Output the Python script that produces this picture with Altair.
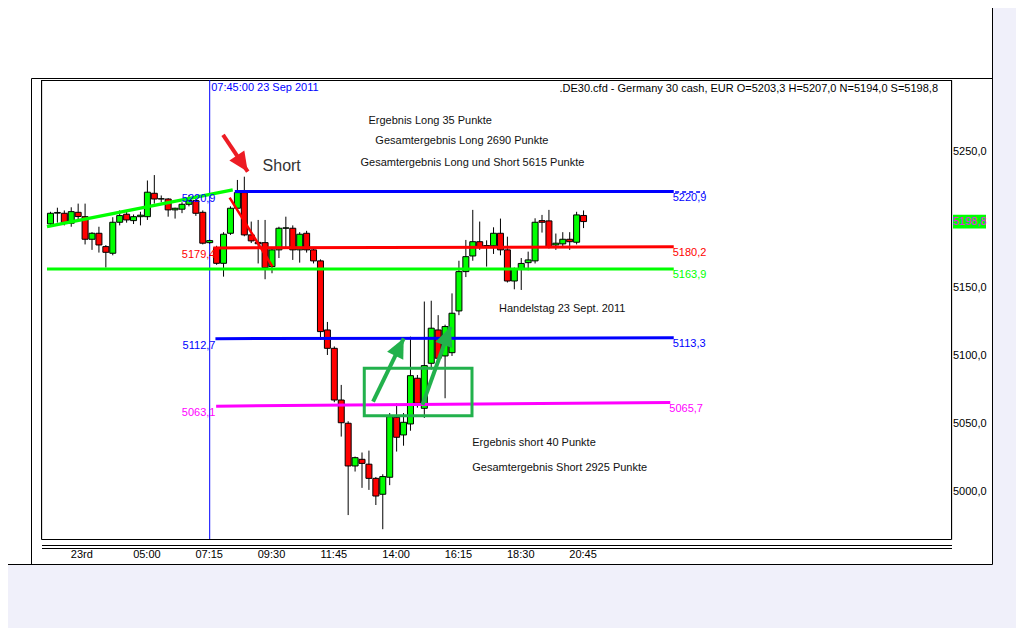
import altair as alt
import pandas as pd

# ---------------- data ----------------
opens = [5197.1, 5205.0, 5204.9, 5197.6, 5205.6, 5202.4, 5185.8, 5190.2, 5180.4, 5175.5,
         5198.3, 5204.2, 5199.5, 5202.4, 5202.4, 5219.6, 5215.4, 5215.4, 5207.4, 5207.9,
         5211.5, 5214.2, 5205.6, 5183.3, 5179.6, 5168.1, 5190.2, 5208.6, 5220.1, 5189.0,
         5183.5, 5183.3, 5165.7, 5178.0, 5193.9, 5193.9, 5178.0, 5190.2, 5178.0, 5169.9,
         5119.1, 5105.6, 5067.6, 5050.5, 5019.1, 5024.0, 5020.4, 5010.0, 4998.3, 5010.8,
         5054.9, 5041.9, 5050.0, 5083.6, 5061.5, 5094.6, 5119.1, 5100.0, 5102.4, 5133.1,
         5162.0, 5173.5, 5184.0, 5180.8, 5181.0, 5190.2, 5178.0, 5155.1, 5164.0, 5168.6,
         5169.9, 5199.5, 5199.3, 5181.6, 5182.4, 5185.8, 5183.6, 5203.3]
highs = [5206.0, 5209.0, 5207.0, 5209.3, 5212.0, 5212.0, 5191.0, 5195.0, 5181.5, 5202.0,
         5207.0, 5206.0, 5204.0, 5206.0, 5229.0, 5233.0, 5218.0, 5216.0, 5209.0, 5213.0,
         5218.4, 5217.0, 5207.0, 5185.5, 5181.0, 5191.0, 5210.0, 5229.4, 5231.8, 5198.8,
         5200.0, 5200.0, 5179.0, 5195.0, 5202.4, 5196.0, 5191.0, 5192.0, 5179.0, 5171.0,
         5125.0, 5107.0, 5078.7, 5052.0, 5026.0, 5029.0, 5030.4, 5011.0, 5013.0, 5058.0,
         5065.2, 5058.0, 5114.2, 5086.0, 5140.0, 5140.6, 5130.0, 5123.0, 5146.0, 5170.0,
         5185.3, 5207.4, 5198.8, 5185.0, 5194.6, 5201.0, 5187.7, 5165.0, 5172.0, 5176.7,
         5201.2, 5203.7, 5207.4, 5190.0, 5191.0, 5191.0, 5206.0, 5207.0]
lows = [5195.5, 5198.0, 5196.0, 5195.0, 5200.0, 5182.0, 5178.0, 5176.0, 5165.0, 5174.0,
        5196.0, 5198.0, 5197.0, 5196.0, 5200.0, 5212.0, 5213.0, 5202.4, 5201.0, 5205.0,
        5210.0, 5203.0, 5182.0, 5182.5, 5167.0, 5158.3, 5189.0, 5207.0, 5188.0, 5183.0,
        5168.0, 5156.4, 5160.8, 5172.0, 5179.0, 5170.6, 5168.6, 5176.0, 5168.0, 5111.8,
        5100.7, 5066.0, 5040.7, 4983.0, 5015.0, 5003.0, 5001.5, 4990.4, 4972.6, 5005.0,
        5029.7, 5034.0, 5045.0, 5062.0, 5054.4, 5090.0, 5095.0, 5068.9, 5100.0, 5130.0,
        5158.0, 5170.0, 5178.0, 5165.7, 5175.0, 5174.0, 5154.0, 5149.0, 5148.5, 5163.0,
        5168.0, 5190.7, 5179.0, 5178.0, 5180.0, 5178.0, 5182.0, 5194.0]
closes = [5204.9, 5205.5, 5198.0, 5206.1, 5202.5, 5185.8, 5190.2, 5181.6, 5176.2, 5198.3,
          5203.2, 5200.0, 5202.4, 5203.5, 5220.4, 5215.4, 5215.6, 5207.4, 5208.6, 5211.5,
          5214.2, 5204.9, 5182.9, 5184.8, 5168.1, 5189.5, 5208.6, 5220.1, 5189.0, 5184.6,
          5182.5, 5164.9, 5178.0, 5193.9, 5194.2, 5178.0, 5189.5, 5178.0, 5169.9, 5117.9,
          5105.6, 5067.6, 5050.9, 5019.1, 5025.2, 5021.0, 5010.0, 4997.0, 5011.3, 5055.4,
          5040.2, 5051.2, 5085.5, 5065.2, 5092.9, 5120.4, 5098.3, 5121.6, 5131.4, 5162.0,
          5173.0, 5184.0, 5180.4, 5181.2, 5190.2, 5178.0, 5155.1, 5164.0, 5168.0, 5170.6,
          5198.3, 5198.3, 5180.4, 5182.9, 5185.8, 5184.0, 5203.7, 5198.8]

x_tick_values = [4.6, 14, 23, 32, 41, 50, 59, 68, 77]
x_tick_labels = ["23rd", "05:00", "07:15", "09:30", "11:45", "14:00", "16:15", "18:30", "20:45"]
y_tick_values = [5000, 5050, 5100, 5150, 5250]

level_start_i = [26.7, 23.6, -0.43, 23.9, 24.0]
level_end_i = [90.1, 90.1, 90.1, 90.1, 89.6]
level_start_p = [5220.9, 5179.4, 5163.9, 5112.7, 5063.1]
level_end_p = [5220.9, 5180.2, 5163.9, 5113.3, 5065.7]
level_colors = ["#0000FF", "#FF0000", "#00FF00", "#0000FF", "#FF00FF"]
level_left_label = [True, True, False, True, True]
level_left_label_i = 23.9
level_ext_i = [90.3, 94.6]
level_ext_p = 5220.6

trend_start_i = [-0.43, 25.95]
trend_start_p = [5195.1, 5216.4]
trend_end_i = [26.4, 32.14]
trend_end_p = [5222.1, 5165.7]
trend_colors = ["#00FF00", "#FF0000"]
trend_widths = [3.5, 2.5]

marker_i = 23
marker_label = "07:45:00 23 Sep 2011"

arrow_start_i = [25.0, 46.67, 53.8]
arrow_start_p = [5262.5, 5066.4, 5064.0]
arrow_end_i = [28.57, 51.1, 57.86]
arrow_end_p = [5235.5, 5113.0, 5121.5]
arrow_colors = ["#ED1C24", "#22B14C", "#22B14C"]
arrow_angles = [146, 26, 20]

box_i = [45.4, 60.96]
box_p = [5091.0, 5056.1]

note_texts = ["Ergebnis Long 35 Punkte", "Gesamtergebnis Long 2690 Punkte",
              "Gesamtergebnis Long und Short 5615 Punkte", "Handelstag 23 Sept. 2011",
              "Ergebnis short 40 Punkte", "Gesamtergebnis Short 2925 Punkte"]
note_i = [46.0, 47.0, 44.86, 64.86, 61.0, 61.0]
note_p = [5272.8, 5258.1, 5241.9, 5134.6, 5036.0, 5017.6]

short_text = "Short"
short_i = 30.71
short_p = 5239.7

title_text = ".DE30.cfd - Germany 30 cash, EUR O=5203,3 H=5207,0 N=5194,0 S=5198,8"

# ---------------- helpers ----------------
FONT = "Liberation Sans"
LAV = "#F0F0FA"
xs = alt.Scale(domain=[-0.4286, 129.571], nice=False, zero=False)
ys = alt.Scale(domain=[4965.4, 5302.9], nice=False, zero=False)


def fmt(v):
    return f"{v:.1f}".replace(".", ",")


def X(f):
    return alt.X(f"{f}:Q", scale=xs, axis=None)


def Y(f):
    return alt.Y(f"{f}:Q", scale=ys, axis=None)


one = pd.DataFrame({"k": [0]})


def hline(y, x1, x2, color="black"):
    return alt.Chart(one).mark_rule(color=color, strokeWidth=1).encode(
        x=alt.value(x1), x2=alt.value(x2), y=alt.value(y))


def vline(x, y1, y2, color="black"):
    return alt.Chart(one).mark_rule(color=color, strokeWidth=1).encode(
        x=alt.value(x), y=alt.value(y1), y2=alt.value(y2))


# ---------------- frame ----------------
bg_right = alt.Chart(one).mark_rect(color=LAV).encode(
    x=alt.value(950.5), x2=alt.value(1000), y=alt.value(-90), y2=alt.value(600))
bg_bottom = alt.Chart(one).mark_rect(color=LAV).encode(
    x=alt.value(-50), x2=alt.value(1000), y=alt.value(484.5), y2=alt.value(600))
frame = [
    bg_right, bg_bottom,
    vline(950.5, -90, 484.5), hline(484.5, -50, 950.5),
    vline(-10.5, -1.5, 484.5), hline(-1.5, -10.5, 950.5),
    vline(-0.5, 0, 459.5), vline(909.5, 0, 459.5),
    hline(0.5, -0.5, 909.5), hline(459.5, -0.5, 909.5),
    hline(465.5, 0, 910), hline(468.5, 0, 910),
]

# ---------------- candles ----------------
candles = pd.DataFrame({"i": list(range(len(opens))), "o": opens, "h": highs,
                        "l": lows, "c": closes})
candles["dir"] = ["up" if c >= o else "down" for o, c in zip(opens, closes)]

wicks = alt.Chart(candles).mark_rule(color="black", strokeWidth=1, xOffset=0.5).encode(
    x=X("i"), y=Y("l"), y2="h")
bodies = alt.Chart(candles).mark_bar(size=6, stroke="black", strokeWidth=1, xOffset=0.5).encode(
    x=X("i"), y=Y("o"), y2="c",
    fill=alt.Fill("dir:N", scale=alt.Scale(domain=["up", "down"], range=["#00FF00", "#FF0000"]),
                  legend=None))

marker = alt.Chart(one).mark_rule(color="#0000FF", strokeWidth=1, xOffset=0.5).encode(
    x=alt.XDatum(marker_i, type="quantitative", axis=None))
marker_text = alt.Chart(one).mark_text(align="left", baseline="middle", dx=2, fontSize=11,
                                       font=FONT, color="#0000FF").encode(
    x=alt.XDatum(marker_i, type="quantitative", axis=None), y=alt.value(7.5),
    text=alt.value(marker_label))

# right-hand price labels
ylab = pd.DataFrame({"p": y_tick_values, "t": [fmt(v) for v in y_tick_values]})
ylabels = alt.Chart(ylab).mark_text(align="left", baseline="middle", fontSize=11, font=FONT,
                                    color="black").encode(
    x=alt.value(911), y=Y("p"), text="t:N")

# ---------------- level lines ----------------
levels = pd.DataFrame({"i": level_start_i, "i2": level_end_i, "p": level_start_p,
                       "p2": level_end_p, "col": level_colors, "left": level_left_label})
levels["lt"] = [fmt(v) for v in level_start_p]
levels["rt"] = [fmt(v) for v in level_end_p]
levels["li"] = level_left_label_i

level_lines = alt.Chart(levels).mark_rule(strokeWidth=3).encode(
    x=X("i"), x2="i2", y=Y("p"), y2="p2", color=alt.Color("col:N", scale=None))
level_ext = alt.Chart(pd.DataFrame({"i": [level_ext_i[0]], "i2": [level_ext_i[1]],
                                    "p": [level_ext_p]})).mark_rule(
    color="#0000FF", strokeWidth=1.5, strokeDash=[4, 3]).encode(
    x=X("i"), x2="i2", y=Y("p"))
left_labels = alt.Chart(levels[levels["left"]]).mark_text(
    align="right", baseline="middle", dy=7, fontSize=11, font=FONT).encode(
    x=X("li"), y=Y("p"), text="lt:N", color=alt.Color("col:N", scale=None))
right_labels = alt.Chart(levels).mark_text(
    align="left", baseline="middle", dy=6, dx=-1, fontSize=11, font=FONT).encode(
    x=X("i2"), y=Y("p2"), text="rt:N", color=alt.Color("col:N", scale=None))

trends = pd.DataFrame({"i": trend_start_i, "i2": trend_end_i, "p": trend_start_p,
                       "p2": trend_end_p, "col": trend_colors, "w": trend_widths})
trend_lines = alt.Chart(trends).mark_rule().encode(
    x=X("i"), x2="i2", y=Y("p"), y2="p2", color=alt.Color("col:N", scale=None),
    strokeWidth=alt.StrokeWidth("w:Q", scale=None))

# ---------------- annotations ----------------
arrows = pd.DataFrame({"i": arrow_start_i, "i2": arrow_end_i, "p": arrow_start_p,
                       "p2": arrow_end_p, "col": arrow_colors, "ang": arrow_angles})
shafts = alt.Chart(arrows).mark_rule(strokeWidth=4).encode(
    x=X("i"), x2="i2", y=Y("p"), y2="p2", color=alt.Color("col:N", scale=None))
heads = alt.Chart(arrows).mark_point(
    shape="M0,0L0.6,1.3L-0.6,1.3Z", size=900, filled=True, opacity=1, strokeWidth=0).encode(
    x=X("i2"), y=Y("p2"), color=alt.Color("col:N", scale=None),
    angle=alt.Angle("ang:Q", scale=None))

box = alt.Chart(pd.DataFrame({"i": [box_i[0]], "i2": [box_i[1]], "p": [box_p[0]],
                              "p2": [box_p[1]]})).mark_rect(
    fillOpacity=0, stroke="#22B14C", strokeWidth=3).encode(
    x=X("i"), x2="i2", y=Y("p"), y2="p2")

notes = alt.Chart(pd.DataFrame({"i": note_i, "p": note_p, "t": note_texts})).mark_text(
    align="left", baseline="middle", fontSize=11, font=FONT, color="#111111").encode(
    x=X("i"), y=Y("p"), text="t:N")

short = alt.Chart(one).mark_text(align="left", baseline="middle", fontSize=16, font=FONT,
                                 color="#333333").encode(
    x=alt.XDatum(short_i, type="quantitative", axis=None),
    y=alt.YDatum(short_p, type="quantitative", axis=None),
    text=alt.value(short_text))

title = alt.Chart(one).mark_text(align="right", baseline="middle", fontSize=11, font=FONT,
                                 color="black").encode(
    x=alt.value(896), y=alt.value(8.5), text=alt.value(title_text))

xlabels = alt.Chart(pd.DataFrame({"i": x_tick_values, "t": x_tick_labels})).mark_text(
    align="center", baseline="middle", fontSize=11, font=FONT, color="black").encode(
    x=X("i"), y=alt.value(475), text="t:N")

badge = alt.Chart(one).mark_point(
    shape="M-1,-0.42L1,-0.42L1,0.42L-1,0.42Z", size=1089, filled=True, opacity=1,
    strokeWidth=0, color="#00FF00").encode(
    x=alt.value(927.5), y=alt.YDatum(closes[-1], type="quantitative", axis=None))
badge_text = alt.Chart(one).mark_text(align="left", baseline="middle", fontSize=11,
                                      font=FONT, color="#FF00FF").encode(
    x=alt.value(911), y=alt.YDatum(closes[-1], type="quantitative", axis=None),
    text=alt.value(fmt(closes[-1])))

chart = alt.layer(
    *frame, marker, wicks, bodies, level_lines, level_ext, trend_lines, left_labels,
    right_labels, box, shafts, heads, notes, short, title, marker_text, xlabels, ylabels,
    badge, badge_text
).properties(
    width=910, height=459,
    padding={"left": 34, "top": 72, "right": 64, "bottom": 89},
    autosize=alt.AutoSizeParams(type="none"),
    background="white",
).configure_view(stroke=None).configure(font=FONT)

chart.save("out.html", embed_options={"renderer": "svg", "actions": False})
